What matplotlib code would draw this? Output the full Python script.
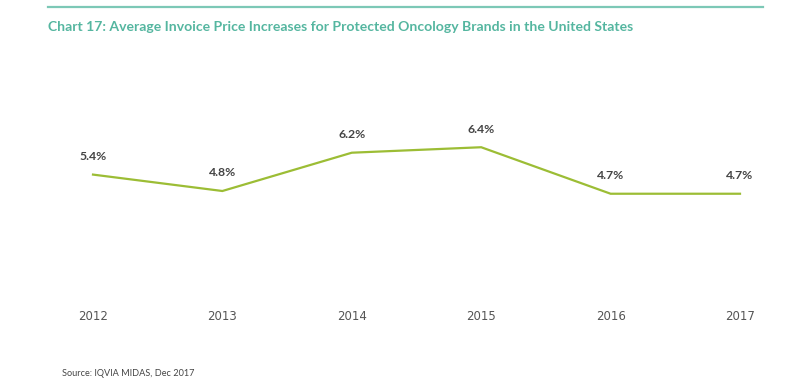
import matplotlib
matplotlib.use("Agg")
import matplotlib.pyplot as plt
from matplotlib.lines import Line2D

years = [2012, 2013, 2014, 2015, 2016, 2017]
increase = [5.4, 4.8, 6.2, 6.4, 4.7, 4.7]
labels = ["5.4%", "4.8%", "6.2%", "6.4%", "4.7%", "4.7%"]
title = "Chart 17: Average Invoice Price Increases for Protected Oncology Brands in the United States"
source = "Source: IQVIA MIDAS, Dec 2017"

W, H = 812, 390
fig = plt.figure(figsize=(W / 100, H / 100), dpi=100)
fig.patch.set_facecolor("white")

def fx(px):
    return px / W

def fy(py):
    return 1 - py / H

# top teal rule
fig.add_artist(Line2D([fx(48), fx(763)], [fy(7), fy(7)], color="#7cc8b6", lw=1.6))

# title
fig.text(fx(48), fy(27), title, color="#55b6a0", fontsize=10.05, fontweight="bold",
         family="Lato", ha="left", va="center")

ax = fig.add_axes([fx(93), fy(300), fx(740) - fx(93), (300 - 100) / H])
ax.plot(years, increase, color="#9cbd35", lw=1.6, solid_joinstyle="miter", clip_on=False)
for x, v, t in zip(years, increase, labels):
    ax.annotate(t, (x, v), xytext=(0, 13), textcoords="offset points",
                ha="center", va="center", fontsize=8.8, fontweight="bold",
                color="#444444", family="Lato")
ax.set_xlim(2012, 2017)
ax.set_ylim(0.815, 8.127)
ax.set_xticks(years)
ax.set_xticklabels([str(y) for y in years], family="Liberation Sans Narrow",
                   fontsize=8.5, color="#555555")
ax.tick_params(axis="x", length=0, pad=7)
ax.set_yticks([])
for s in ax.spines.values():
    s.set_visible(False)
ax.patch.set_alpha(0)

fig.text(fx(62), fy(374), source, color="#444444", fontsize=6.6,
         family="Lato", ha="left", va="center")

fig.savefig("out.png", dpi=100, facecolor="white")
